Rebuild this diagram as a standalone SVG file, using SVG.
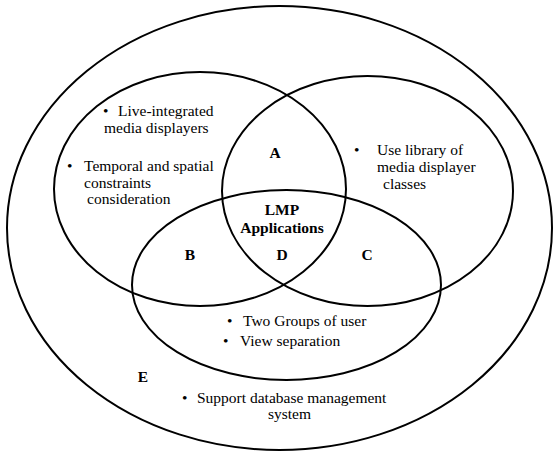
<svg xmlns="http://www.w3.org/2000/svg" width="554" height="453" viewBox="0 0 554 453">
<style>
.set{fill:none;stroke:#000;stroke-width:2}
.t{font-family:"Liberation Serif","Times New Roman",serif;font-size:15.5px;fill:#000}
.b{font-family:"Liberation Serif","Times New Roman",serif;font-size:15.5px;font-weight:bold;fill:#000;text-anchor:middle}
</style>
<rect width="554" height="453" fill="#fff"/>
<g id="E">
<ellipse class="set" cx="279.5" cy="228" rx="272.5" ry="222"/>
<text class="b" x="143" y="382">E</text>
<text class="t" x="182" y="403">•</text>
<text class="t" x="197" y="403">Support database management</text>
<text class="t" x="268" y="419">system</text>
</g>
<g id="left">
<ellipse class="set" cx="200" cy="189" rx="146" ry="117"/>
<text class="t" x="103" y="116">•</text>
<text class="t" x="118" y="116">Live-integrated</text>
<text class="t" x="104" y="133">media displayers</text>
<text class="t" x="67" y="171">•</text>
<text class="t" x="84" y="171">Temporal and spatial</text>
<text class="t" x="84" y="188">constraints</text>
<text class="t" x="87" y="204">consideration</text>
</g>
<g id="right">
<ellipse class="set" cx="367.5" cy="191" rx="145.5" ry="115"/>
<text class="t" x="354" y="155">•</text>
<text class="t" x="377" y="155">Use library of</text>
<text class="t" x="377" y="172">media displayer</text>
<text class="t" x="383" y="189">classes</text>
</g>
<g id="bottom">
<ellipse class="set" cx="286.5" cy="285" rx="154.5" ry="95"/>
<text class="t" x="227" y="326">•</text>
<text class="t" x="243" y="326">Two Groups of user</text>
<text class="t" x="223" y="346">•</text>
<text class="t" x="240" y="346">View separation</text>
</g>
<g id="labels">
<text class="b" x="275" y="158">A</text>
<text class="b" x="282" y="215">LMP</text>
<text class="b" x="282" y="233">Applications</text>
<text class="b" x="190" y="260">B</text>
<text class="b" x="282" y="260">D</text>
<text class="b" x="367" y="260">C</text>
</g>
<g id="connectors"/>
</svg>
